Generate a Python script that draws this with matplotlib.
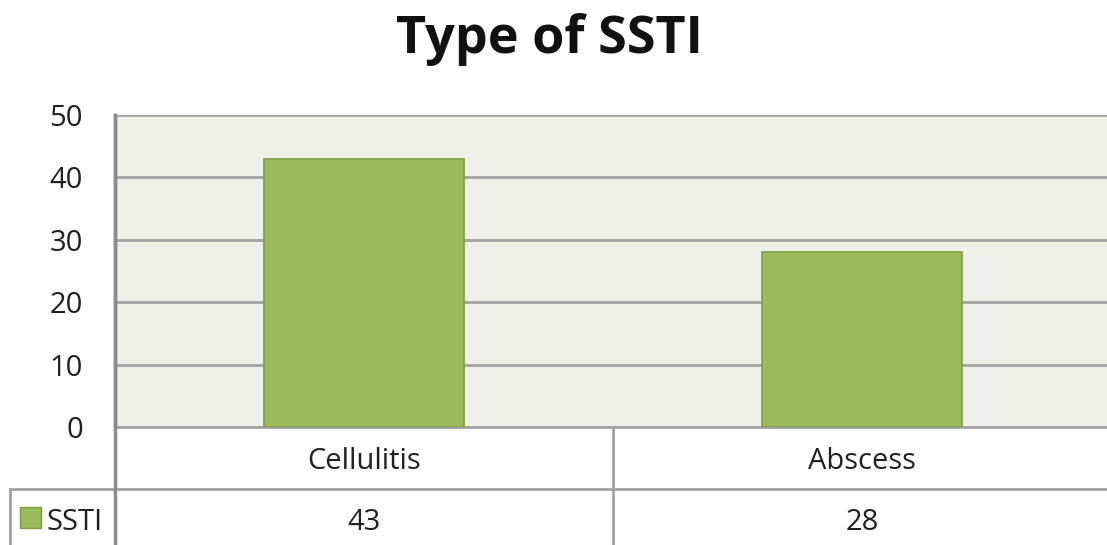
import matplotlib.pyplot as plt
from matplotlib.transforms import blended_transform_factory
from matplotlib.patches import Rectangle

# Data
categories = ['Cellulitis', 'Abscess']
values = [43, 28]
series_name = 'SSTI'
yticks = [0, 10, 20, 30, 40, 50]

W, H = 1107, 545
fig = plt.figure(figsize=(W / 100, H / 100), dpi=100)
plt.rcParams['font.family'] = ['Open Sans', 'DejaVu Sans']
plt.rcParams['font.weight'] = 'medium'

txt_col = '#202020'
fs = 21

# plot area in pixels (right edge runs just past the picture)
left, right, top, bottom = 115, 1111, 115, 427
ax = fig.add_axes([left / W, 1 - bottom / H, (right - left) / W, (bottom - top) / H])
ax.set_facecolor('#eef1e8')

grid_col = '#a3a3a3'
green = '#9bbb59'

x = list(range(len(categories)))
ax.bar(x, values, width=0.4, color=green, edgecolor='#7f9c45', linewidth=1.2, zorder=3)
ax.set_xlim(-0.5, len(categories) - 0.5)
ax.set_ylim(0, 50)
ax.set_yticks(yticks)
ax.yaxis.grid(True, color=grid_col, linewidth=2, zorder=0)
ax.set_axisbelow(True)
ax.tick_params(axis='y', length=0, pad=23, labelsize=fs, labelcolor=txt_col)
ax.set_xticks([])
for s in ['top', 'right', 'bottom']:
    ax.spines[s].set_visible(False)
ax.spines['left'].set_color('#8c8c8c')
ax.spines['left'].set_linewidth(2.5)

# data table below the plot
tr = blended_transform_factory(ax.transData, ax.transAxes)
ph = bottom - top
row_h = 62 / ph
line_kw = dict(color=grid_col, linewidth=2, clip_on=False, transform=ax.transAxes)

ax.plot([0, 1.05], [0, 0], **line_kw)
x_tab = (10 - left) / (right - left)
ax.plot([x_tab, 1.05], [-row_h, -row_h], **line_kw)
ax.plot([0, 0], [1, -0.5], color='#8c8c8c', linewidth=2.5, clip_on=False, transform=ax.transAxes)
ax.plot([x_tab, x_tab], [-row_h, -0.5], **line_kw)
for i in range(1, len(categories)):
    ax.plot([i - 0.5, i - 0.5], [0, -0.5], color=grid_col, linewidth=2,
            clip_on=False, transform=tr)

for i, (c, v) in enumerate(zip(categories, values)):
    ax.text(i, (bottom - 469) / ph, c, transform=tr, ha='center', va='baseline',
            fontsize=fs, color=txt_col)
    ax.text(i, (bottom - 530) / ph, str(v), transform=tr, ha='center', va='baseline',
            fontsize=fs, color=txt_col)

# legend key in first column
fig.patches.append(Rectangle((20 / W, 1 - 528 / H), 21 / W, 21 / H, transform=fig.transFigure,
                             facecolor=green, edgecolor='#7f9c45', linewidth=1))
fig.text(47 / W, 1 - 530 / H, series_name, ha='left', va='baseline', fontsize=fs, color=txt_col)

fig.text(549 / W, 1 - 53 / H, 'Type of SSTI', ha='center', va='baseline',
         fontsize=37.5, fontweight='bold', color='#111111')

fig.savefig('out.png', dpi=100)
